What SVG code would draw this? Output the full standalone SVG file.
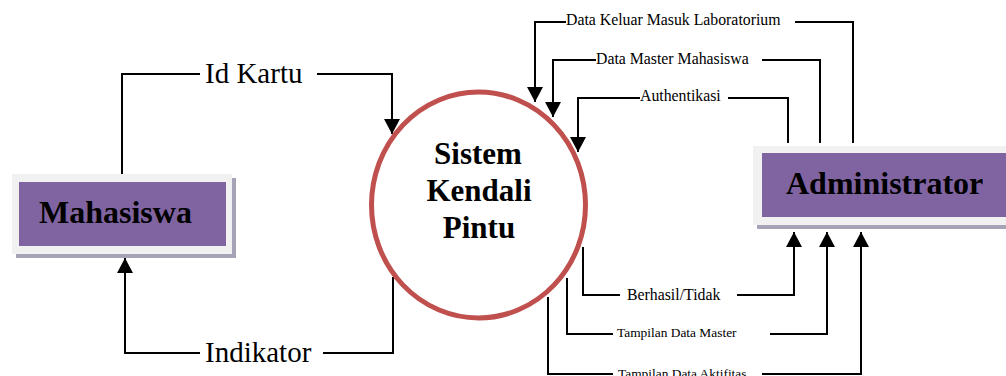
<svg xmlns="http://www.w3.org/2000/svg" width="1006" height="376" viewBox="0 0 1006 376">
<defs>
<style>
.ln{fill:none;stroke:#000;stroke-width:2}
.arr{marker-end:url(#ah)}
.lbl{font-family:"Liberation Serif","Times New Roman",serif;fill:#000}
.big{font-size:29px}
.mid{font-size:15.8px}
.sm{font-size:13.4px}
.bold{font-family:"Liberation Serif","Times New Roman",serif;font-weight:bold;fill:#000}
.frame{fill:#F1F1F1}
.shadow{fill:#A8A2B6}
.ent{fill:#8064A2}
</style>
<marker id="ah" markerUnits="userSpaceOnUse" markerWidth="16" markerHeight="16" refX="15" refY="8" orient="auto" viewBox="0 0 16 16">
<path d="M0,0 L15,8 L0,16 z" fill="#000"/>
</marker>
</defs>
<rect width="1006" height="376" fill="#fff"/>

<g id="connectors">
<!-- Id Kartu -->
<polyline class="ln" points="122,174 122,74 200,74"/>
<polyline class="ln arr" points="317,74 392,74 392,134"/>
<!-- Indikator -->
<polyline class="ln" points="393,277 393,353 323,353"/>
<polyline class="ln arr" points="200,353 125,353 125,258"/>
<!-- Data Keluar Masuk Laboratorium -->
<polyline class="ln" points="853,143 853,22 795,22"/>
<polyline class="ln arr" points="566,22 535,22 535,102"/>
<!-- Data Master Mahasiswa -->
<polyline class="ln" points="820,143 820,60 762,60"/>
<polyline class="ln arr" points="596,60 553,60 553,117"/>
<!-- Authentikasi -->
<polyline class="ln" points="788,143 788,98 728,98"/>
<polyline class="ln arr" points="640,98 578,98 578,152"/>
<!-- Berhasil/Tidak -->
<polyline class="ln" points="583,247 583,295 620,295"/>
<polyline class="ln arr" points="737,295 794,295 794,232"/>
<!-- Tampilan Data Master -->
<polyline class="ln" points="567,278 567,334 613,334"/>
<polyline class="ln arr" points="770,334 827,334 827,232"/>
<!-- Tampilan Data Aktifitas -->
<polyline class="ln" points="548,297 548,374 613,374"/>
<polyline class="ln arr" points="762,374 861,374 861,232"/>

<text class="lbl big" x="205" y="83">Id Kartu</text>
<text class="lbl big" x="205" y="362">Indikator</text>
<text class="lbl mid" x="566" y="25">Data Keluar Masuk Laboratorium</text>
<text class="lbl mid" x="596" y="64">Data Master Mahasiswa</text>
<text class="lbl mid" x="640" y="101">Authentikasi</text>
<text class="lbl mid" x="627" y="300">Berhasil/Tidak</text>
<text class="lbl sm" x="617" y="337">Tampilan Data Master</text>
<text class="lbl sm" x="618" y="378">Tampilan Data Aktifitas</text>
</g>

<g id="mahasiswa">
<rect class="shadow" x="16" y="178" width="220" height="80"/>
<rect class="frame" x="12" y="174" width="220" height="80"/>
<rect class="ent" x="19" y="182" width="207" height="64"/>
<text class="bold" x="39" y="223" font-size="32">Mahasiswa</text>
</g>

<g id="administrator">
<rect class="shadow" x="757" y="150" width="260" height="79"/>
<rect class="frame" x="753" y="146" width="260" height="79"/>
<rect class="ent" x="762" y="153" width="250" height="64"/>
<text class="bold" x="786" y="194" font-size="32">Administrator</text>
</g>

<g id="sistem">
<ellipse cx="478.5" cy="205" rx="107" ry="113" fill="#fff" stroke="#C0504D" stroke-width="5"/>
<text class="bold" font-size="31" text-anchor="middle" x="478" y="164">Sistem</text>
<text class="bold" font-size="31" text-anchor="middle" x="479" y="201">Kendali</text>
<text class="bold" font-size="31" text-anchor="middle" x="479" y="238">Pintu</text>
</g>
</svg>
